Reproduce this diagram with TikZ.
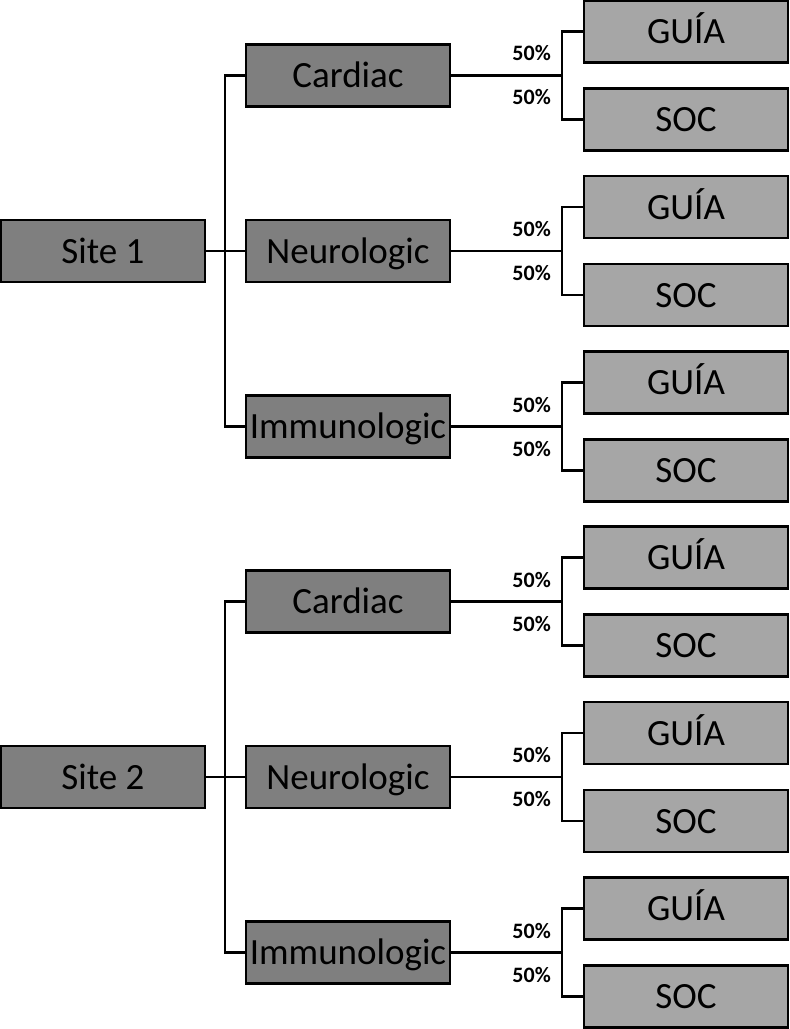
\documentclass[tikz,border=0pt]{standalone}
\usepackage{fontspec}
\setmainfont{Carlito}
\definecolor{darkbox}{HTML}{7F7F7F}
\definecolor{lightbox}{HTML}{A6A6A6}
\begin{document}
\begin{tikzpicture}[x=1pt,y=-1pt,
  box/.style={draw=black, line width=2.6pt, minimum width=204pt, minimum height=62pt, inner sep=0pt, text height=24pt, text depth=0pt, font=\fontsize{37}{42}\selectfont},
  darkb/.style={box, fill=darkbox},
  lightb/.style={box, fill=lightbox},
  pct/.style={font=\fontsize{22}{26}\selectfont\bfseries, anchor=east, inner sep=0pt},
  conn/.style={line width=2.3pt}]
\useasboundingbox (0,0) rectangle (790,1029);
\foreach \s/\sy in {1/251,2/777}{
  \node[darkb] (site\s) at (103,\sy) {Site \s};
  \foreach \k/\name in {1/Cardiac,2/Neurologic,3/Immunologic}{
    \pgfmathsetmacro{\cy}{\sy+(\k-2)*175.5}
    \node[darkb] (cat\s\k) at (348,\cy) {\name};
    \node[lightb] (g\s\k) at (686,\cy-44) {GUÍA};
    \node[lightb] (o\s\k) at (686,\cy+44) {SOC};
    \path (g\s\k.west) ++(-21,0) coordinate (sp\s\k);
    \draw[conn] (cat\s\k.east) -- (cat\s\k.east -| sp\s\k);
    \draw[conn] (g\s\k.west) -- (sp\s\k) |- (o\s\k.west);
    \node[pct] (pu\s\k) at (551,\cy-22) {50\%};
    \node[pct] (pl\s\k) at (551,\cy+22) {50\%};
  }
  \draw[conn] (site\s.east) -- (cat\s2.west);
  \draw[conn] (cat\s1.west) -- ++(-20,0) |- (cat\s3.west);
}
\end{tikzpicture}
\end{document}
